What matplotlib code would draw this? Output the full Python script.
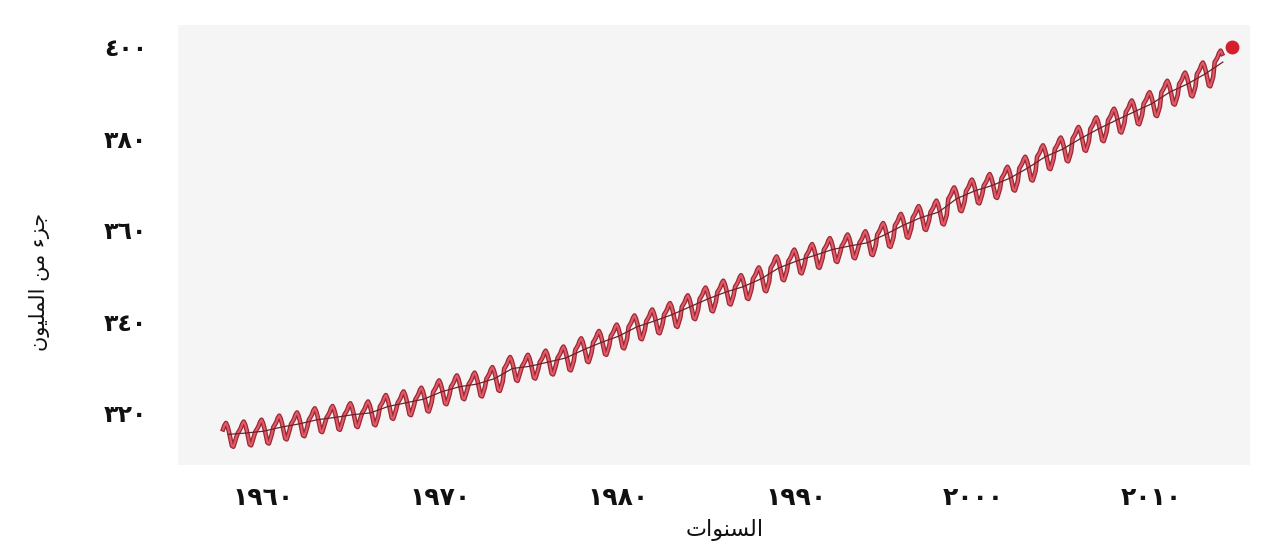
import matplotlib
matplotlib.use("Agg")
import matplotlib.pyplot as plt
import matplotlib.transforms as mtransforms
from matplotlib.ticker import FixedLocator, FuncFormatter
import numpy as np

# annual means (ppm), one per year
years = list(range(1958, 2015))
annual_mean = [315.3, 315.6, 316.0, 316.9, 317.6, 318.5, 319.0, 319.6, 320.0, 321.4,
               322.2, 323.0, 324.6, 325.7, 326.3, 327.5, 329.7, 330.2, 331.1, 332.0,
               333.8, 335.4, 336.8, 338.8, 340.1, 341.5, 343.2, 344.9, 346.4, 347.6,
               349.3, 351.7, 353.2, 354.4, 355.7, 356.5, 357.2, 359.0, 361.0, 362.7,
               363.9, 366.8, 368.5, 369.7, 371.3, 373.5, 376.0, 377.7, 380.0, 382.1,
               384.0, 385.8, 387.6, 390.1, 391.9, 394.1, 396.7]
# seasonal swing around the annual mean, Jan..Dec (ppm)
seasonal = [0.0, 0.5, 1.1, 2.0, 2.5, 1.8, 0.6, -1.0, -2.5, -2.7, -1.7, -0.6]
first_month = 2   # curve starts in March of the first year
last_month = 5    # and stops in June of the last one

# the 400 ppm marker
dot_year = 2015.0
dot_value = 400

x_ticks = [1960, 1970, 1980, 1990, 2000, 2010]
y_ticks = [320, 340, 360, 380, 400]

x_title = "\uFE95\uFE8D\uFEEE\uFEE8\uFEB4\uFEDF\uFE8D"  # السنوات
y_title = "\uFEE5\uFEEE\uFEF4\uFEE0\uFEE4\uFEDF\uFE8D \uFEE6\uFEE3 \uFE80\uFEB0\uFE9F"  # جزء من المليون

# monthly series
t, co2 = [], []
for i, yr in enumerate(years):
    for m in range(12):
        if yr == years[0] and m < first_month:
            continue
        if yr == years[-1] and m > last_month:
            continue
        t.append(yr + (m + 0.5) / 12)
        co2.append(annual_mean[i] + seasonal[m])
t_mid = [yr + 0.5 for yr in years]

arabic_digits = str.maketrans("0123456789", "\u0660\u0661\u0662\u0663\u0664\u0665\u0666\u0667\u0668\u0669")
def to_arabic(v, pos=None):
    return str(int(round(v))).translate(arabic_digits)

plt.rcParams['font.family'] = ['DejaVu Sans']

fig = plt.figure(figsize=(12.62, 5.51), dpi=100)
ax = fig.add_axes([0.141, 0.156, 0.8495, 0.7986])
ax.set_facecolor('#f5f5f5')

ax.plot(t, co2, color='#9a2834', lw=3.3, solid_joinstyle='round', zorder=2)
ax.plot(t, co2, color='#e25a68', lw=1.5, solid_joinstyle='round', zorder=3)
ax.plot(t_mid, annual_mean, color='#6b2228', lw=0.9, zorder=4)
ax.plot([dot_year], [dot_value], 'o', color='#d4202c', markersize=9, zorder=5)

ax.set_xlim(1955.67, 2016.03)
ax.set_ylim(308.6, 404.8)

ax.xaxis.set_major_locator(FixedLocator(x_ticks))
ax.yaxis.set_major_locator(FixedLocator(y_ticks))
ax.xaxis.set_major_formatter(FuncFormatter(to_arabic))
ax.yaxis.set_major_formatter(FuncFormatter(to_arabic))
ax.tick_params(length=0, colors='#111111')
ax.tick_params(axis='x', pad=15, labelsize=18)
ax.tick_params(axis='y', pad=22, labelsize=17)
for lab in ax.get_xticklabels() + ax.get_yticklabels():
    lab.set_fontweight('bold')
# the printed year labels sit a little to the right of their ticks
shift = mtransforms.ScaledTranslation(8 / 100, 0, fig.dpi_scale_trans)
for lab in ax.get_xticklabels():
    lab.set_transform(lab.get_transform() + shift)

for s in ax.spines.values():
    s.set_visible(False)

fig.text(725 / 1262, 1 - 530 / 551, x_title, ha='center', va='center', fontsize=16, color='#111111')
fig.text(40 / 1262, 1 - 282 / 551, y_title, ha='center', va='center', rotation=90, fontsize=15, color='#111111')

fig.savefig("out.png", dpi=100, facecolor='white')
